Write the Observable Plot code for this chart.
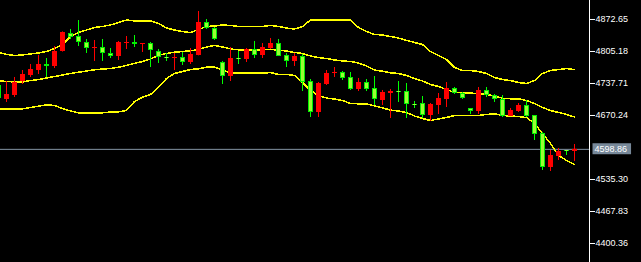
<!DOCTYPE html>
<html><head><meta charset="utf-8">
<script src="https://cdn.jsdelivr.net/npm/d3@7"></script>
<script src="https://cdn.jsdelivr.net/npm/@observablehq/plot@0.6"></script>
<style>html,body{margin:0;padding:0;background:#000;overflow:hidden}svg{display:block}</style>
</head><body><div id="chart"></div>
<script>
// OHLC bars (first bar is partially cut off at the left edge)
const open = [4733.5,
  4704.0, 4712.4, 4741.9, 4754.6, 4765.1, 4777.8, 4773.6, 4805.2, 4843.1, 4836.8,
  4824.2, 4811.5, 4813.6, 4801.0, 4794.6, 4822.0, 4824.2, 4819.9, 4822.0, 4805.2,
  4792.5, 4790.4, 4792.5, 4782.0, 4796.8, 4866.3, 4853.7, 4782.0, 4752.5, 4790.4,
  4788.3, 4809.4, 4796.8, 4811.5, 4822.0, 4796.8, 4784.1, 4794.6, 4741.9, 4676.6,
  4735.6, 4758.8, 4760.9, 4750.4, 4725.1, 4739.8, 4727.2, 4701.9, 4716.6, 4720.8,
  4720.8, 4693.4, 4695.5, 4670.2, 4691.3, 4704.0, 4727.2, 4716.6, 4685.0, 4678.7,
  4723.0, 4712.4, 4704.0, 4668.1, 4678.7, 4691.3, 4670.2, 4632.3, 4560.6, 4583.8,
  4596.4, 4594.3];
const close = [4706.1,
  4714.5, 4739.8, 4756.7, 4767.2, 4777.8, 4773.6, 4805.2, 4845.2, 4834.7, 4824.2,
  4811.5, 4813.6, 4801.0, 4794.6, 4824.2, 4824.2, 4819.9, 4822.0, 4807.3, 4792.5,
  4790.4, 4792.5, 4782.0, 4798.9, 4866.3, 4853.7, 4830.5, 4752.5, 4790.4, 4788.3,
  4809.4, 4796.8, 4813.6, 4822.0, 4794.6, 4784.1, 4794.6, 4739.8, 4676.6, 4737.7,
  4758.8, 4760.9, 4748.3, 4725.1, 4739.8, 4725.1, 4704.0, 4718.7, 4720.8, 4718.7,
  4693.4, 4691.3, 4670.2, 4693.4, 4706.1, 4727.2, 4716.6, 4706.1, 4678.7, 4723.0,
  4712.4, 4704.0, 4668.1, 4680.8, 4691.3, 4668.1, 4630.2, 4560.6, 4585.9, 4594.3,
  4594.3, 4598.86];
const high = [4737.7,
  4741.9, 4750.4, 4765.1, 4777.8, 4796.8, 4790.4, 4815.7, 4846.5, 4851.6, 4870.5,
  4830.5, 4828.4, 4830.5, 4811.5, 4826.3, 4836.8, 4838.9, 4822.0, 4824.2, 4809.4,
  4801.0, 4801.0, 4803.1, 4811.5, 4889.5, 4872.6, 4855.8, 4784.1, 4813.6, 4805.2,
  4811.5, 4826.3, 4822.0, 4832.6, 4830.5, 4801.0, 4801.0, 4798.9, 4746.1, 4739.8,
  4765.1, 4771.4, 4763.0, 4760.9, 4748.3, 4746.1, 4752.5, 4723.0, 4725.1, 4741.9,
  4737.7, 4699.8, 4710.3, 4695.5, 4716.6, 4739.8, 4729.3, 4718.7, 4685.0, 4729.3,
  4729.3, 4714.5, 4712.4, 4685.0, 4695.5, 4701.9, 4670.2, 4634.4, 4596.4, 4600.7,
  4596.4, 4609.1];
const low = [4701.9,
  4697.7, 4708.2, 4735.6, 4750.4, 4756.7, 4750.4, 4769.3, 4804.0, 4830.5, 4815.7,
  4801.0, 4784.1, 4784.1, 4790.4, 4786.2, 4809.4, 4813.6, 4803.1, 4771.4, 4779.9,
  4784.1, 4765.1, 4775.7, 4777.8, 4796.0, 4851.6, 4828.4, 4735.6, 4741.9, 4777.8,
  4782.0, 4790.4, 4790.4, 4809.4, 4794.6, 4771.4, 4773.6, 4720.8, 4666.0, 4666.0,
  4733.5, 4750.4, 4744.0, 4723.0, 4720.8, 4720.8, 4691.3, 4691.3, 4663.9, 4697.7,
  4663.9, 4685.0, 4663.9, 4657.6, 4672.4, 4687.1, 4714.5, 4704.0, 4672.4, 4672.4,
  4708.2, 4697.7, 4666.0, 4668.1, 4676.6, 4666.0, 4617.5, 4554.3, 4552.2, 4575.4,
  4585.9, 4573.3];
// Bollinger bands
const upper = [4803.1,
  4798.9, 4796.8, 4797.8, 4799.9, 4802.0, 4805.2, 4811.5, 4819.9, 4836.8, 4845.2,
  4850.5, 4855.8, 4857.9, 4861.1, 4866.3, 4871.6, 4869.5, 4869.9, 4869.9, 4864.2,
  4854.7, 4850.5, 4847.3, 4845.2, 4851.6, 4857.9, 4858.9, 4861.1, 4860.0, 4857.9,
  4857.9, 4857.9, 4857.9, 4860.0, 4857.9, 4854.7, 4852.6, 4857.9, 4871.6, 4872.0,
  4872.0, 4872.0, 4872.0, 4871.6, 4855.8, 4847.3, 4841.0, 4840.0, 4836.8, 4833.6,
  4828.4, 4824.2, 4819.9, 4805.2, 4796.8, 4788.3, 4771.4, 4765.1, 4765.1, 4763.0,
  4758.8, 4750.4, 4746.1, 4744.0, 4739.8, 4737.7, 4744.0, 4758.8, 4765.1, 4767.2,
  4769.3, 4767.2];
const middle = [4744.0,
  4741.9, 4740.9, 4740.9, 4744.0, 4746.1, 4749.3, 4752.5, 4755.6, 4758.8, 4761.5,
  4764.1, 4766.6, 4768.3, 4769.3, 4772.1, 4775.7, 4779.9, 4784.1, 4789.4, 4796.8,
  4801.0, 4803.7, 4805.2, 4806.7, 4809.4, 4814.7, 4817.8, 4814.7, 4810.5, 4808.8,
  4808.8, 4808.8, 4808.8, 4809.4, 4808.3, 4806.2, 4803.1, 4801.0, 4795.7, 4792.5,
  4790.4, 4787.3, 4785.2, 4784.1, 4780.9, 4774.6, 4766.2, 4763.6, 4760.3, 4758.8,
  4754.6, 4748.3, 4743.0, 4735.6, 4731.4, 4725.1, 4718.7, 4718.1, 4717.7, 4716.0,
  4714.5, 4711.4, 4706.7, 4705.5, 4705.5, 4701.9, 4695.5, 4687.1, 4680.8, 4676.6,
  4672.4, 4667.1];
const lower = [4684.4,
  4684.4, 4684.4, 4684.4, 4687.1, 4689.9, 4692.8, 4691.3, 4685.0, 4679.7, 4675.9,
  4675.9, 4675.9, 4675.9, 4677.6, 4678.0, 4680.8, 4699.8, 4708.8, 4714.5, 4729.3,
  4748.3, 4758.8, 4763.0, 4767.2, 4768.7, 4772.1, 4772.1, 4766.2, 4759.8, 4759.4,
  4759.4, 4759.4, 4759.4, 4760.9, 4756.7, 4756.7, 4754.6, 4739.8, 4723.0, 4712.4,
  4707.1, 4705.0, 4701.9, 4695.5, 4694.9, 4694.9, 4690.3, 4686.1, 4681.8, 4679.7,
  4676.6, 4669.2, 4663.9, 4659.7, 4662.9, 4666.0, 4670.2, 4670.2, 4670.2, 4670.2,
  4672.4, 4673.8, 4670.2, 4669.2, 4668.1, 4666.0, 4653.4, 4632.3, 4611.2, 4585.9,
  4575.4, 4566.9];
const yTicks = [4872.65, 4805.18, 4737.71, 4670.24, 4535.30, 4467.83, 4400.36];
const lastPrice = 4598.86;

const bars = open.map((o, i) => ({
  i, open: o, high: high[i], low: low[i], close: close[i],
  upper: upper[i], middle: middle[i], lower: lower[i], up: close[i] > o
}));
const upBars = bars.filter(d => d.up);
const downBars = bars.filter(d => !d.up);
const band = "#ffff00";

const chart = Plot.plot({
  width: 641, height: 262,
  marginLeft: 0, marginRight: 52, marginTop: 0, marginBottom: 0,
  style: {background: "#000", color: "#fff", fontFamily: "'Liberation Sans', Arial, sans-serif", fontSize: "9px", overflow: "hidden"},
  x: {domain: [0.25, 73.875], axis: null},
  y: {domain: [4360.30, 4912.71], axis: "right", ticks: yTicks, tickFormat: d => d.toFixed(2), tickSize: 5, tickPadding: 1, label: null},
  marks: [
    Plot.ruleY([lastPrice], {stroke: "#8494a4"}),
    Plot.line(bars, {x: "i", y: "upper", stroke: band, shapeRendering: "crispEdges"}),
    Plot.line(bars, {x: "i", y: "middle", stroke: band, shapeRendering: "crispEdges"}),
    Plot.line(bars, {x: "i", y: "lower", stroke: band, shapeRendering: "crispEdges"}),
    Plot.ruleX(upBars, {x: "i", y1: "low", y2: "high", stroke: "#ff0000"}),
    Plot.ruleX(downBars, {x: "i", y1: "low", y2: "high", stroke: "#00ff00"}),
    Plot.ruleX(upBars, {x: "i", y1: "open", y2: "close", stroke: "#ff0000", strokeWidth: 5}),
    Plot.ruleX(downBars, {x: "i", y1: "open", y2: "close", stroke: "#00ee00", strokeWidth: 5}),
    Plot.ruleX(downBars, {x: "i", y1: "open", y2: "close", stroke: "#99ff33", strokeWidth: 3, insetTop: 1, insetBottom: 1}),
    Plot.ruleX([73.875], {stroke: "#fff"}),
    Plot.text([lastPrice], {y: d => d, text: d => d.toFixed(2), frameAnchor: "right", dx: 5, textAnchor: "start", fill: "#fff"})
  ]
});
document.getElementById("chart").append(chart);

// grey price box behind the current-price label
const lbl = d3.select(chart).selectAll('g[aria-label="text"] text').node();
if (lbl) {
  const b = lbl.getBBox();
  d3.select(lbl.parentNode).insert("rect", "text")
    .attr("transform", lbl.getAttribute("transform"))
    .attr("x", b.x - 2).attr("y", b.y - 1)
    .attr("width", b.width + 6).attr("height", b.height + 1)
    .attr("fill", "#778899");
}
</script>
</body></html>
